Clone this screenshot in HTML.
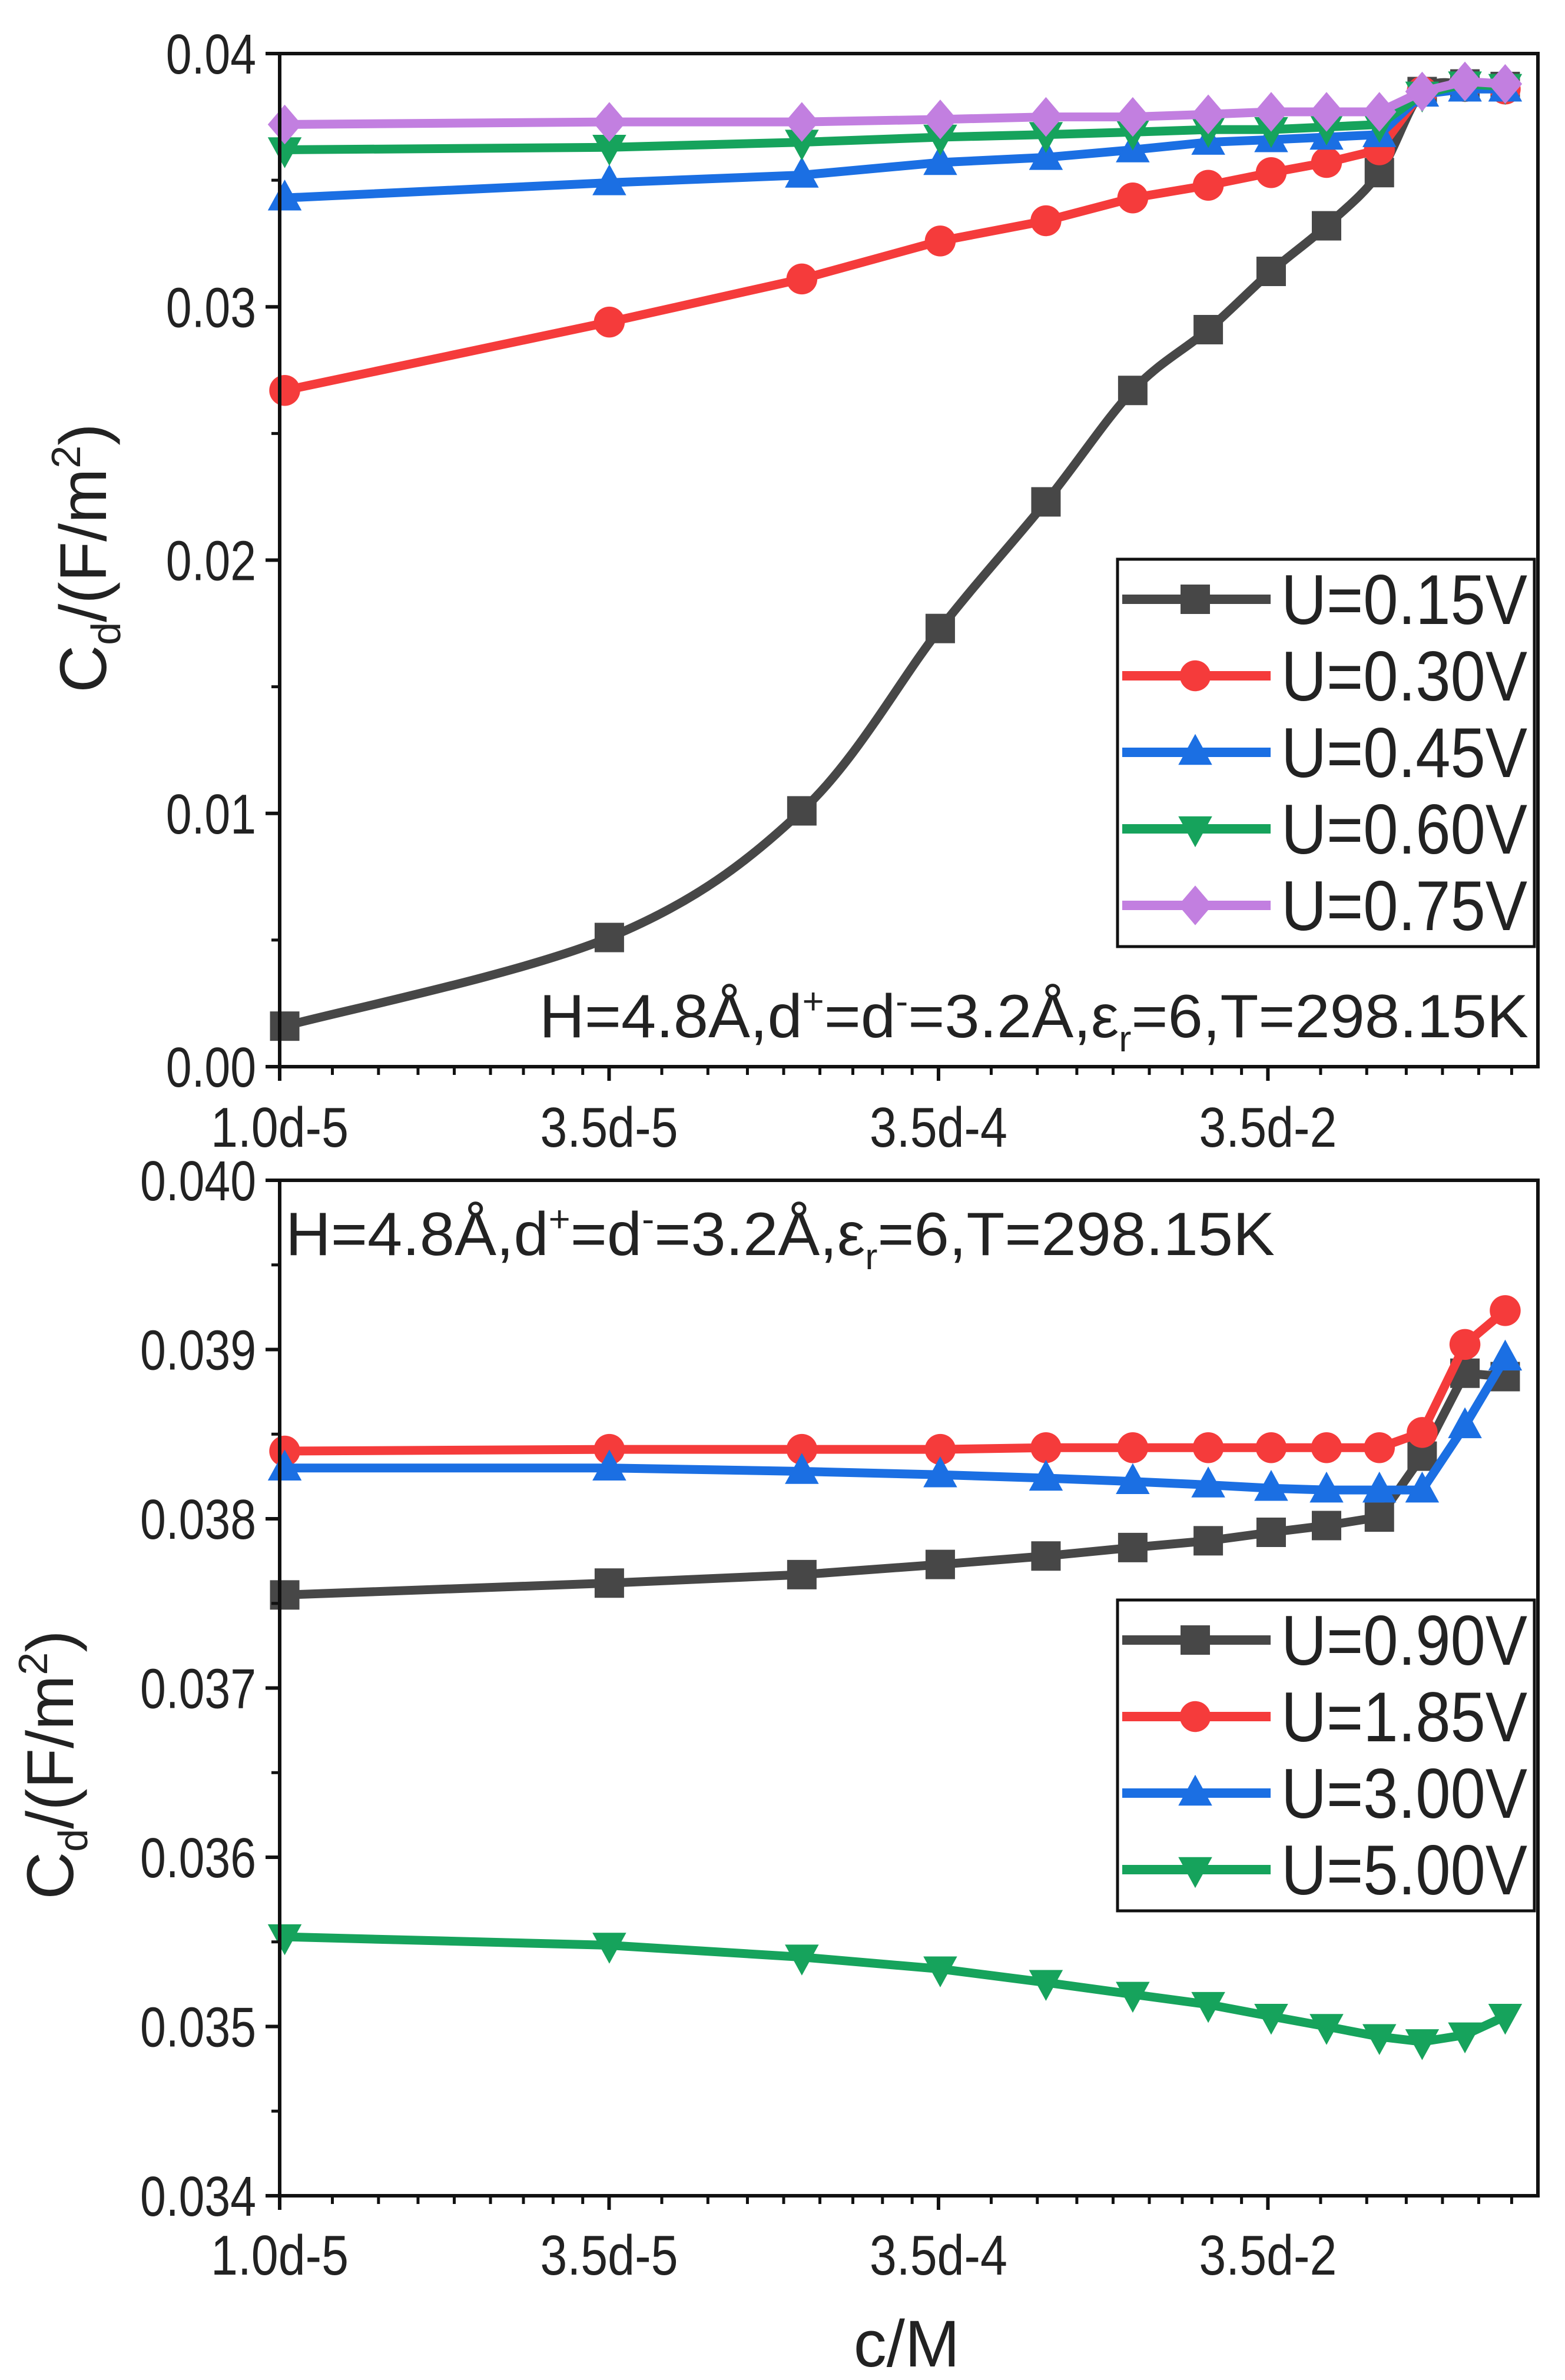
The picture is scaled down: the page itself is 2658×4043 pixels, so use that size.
<!DOCTYPE html>
<html><head><meta charset="utf-8"><style>
html,body{margin:0;padding:0;background:#fff}
svg{display:block}
text{font-family:"Liberation Sans",sans-serif;fill:#222}
</style></head><body>
<svg id="chart" width="2658" height="4043" viewBox="0 0 2658 4043" xmlns="http://www.w3.org/2000/svg"></svg>
<script>
// shared x positions (axis units 0..1)
const xVals = [0.004,0.262,0.415,0.525,0.609,0.678,0.738,0.788,0.832,0.874,0.908,0.942,0.974];
const xTickLabels = ["1.0d-5","3.5d-5","3.5d-4","3.5d-2"];
const xTickVals = [0,0.2618,0.5236,0.7854];
// top panel
const topLabels = ["U=0.15V","U=0.30V","U=0.45V","U=0.60V","U=0.75V"];
const top015 = [0.0016,0.0051,0.0101,0.0173,0.0223,0.0267,0.0291,0.0314,0.0332,0.0353,0.0385,0.0388,0.0387];
const top030 = [0.0267,0.0294,0.0311,0.0326,0.0334,0.0343,0.0348,0.0353,0.0357,0.0362,0.0385,0.0387,0.0386];
const top045 = [0.0343,0.0349,0.0352,0.0357,0.0359,0.0362,0.0365,0.0366,0.0367,0.0368,0.0384,0.0386,0.0386];
const top060 = [0.0362,0.0363,0.0365,0.0367,0.0368,0.0369,0.0370,0.0370,0.0371,0.0372,0.0384,0.0388,0.0387];
const top075 = [0.0372,0.0373,0.0373,0.0374,0.0375,0.0375,0.0376,0.0377,0.0377,0.0377,0.0385,0.0389,0.0388];
const topYTicks = ["0.00","0.01","0.02","0.03","0.04"];
const topYTickVals = [0,0.01,0.02,0.03,0.04];
// bottom panel
const botLabels = ["U=0.90V","U=1.85V","U=3.00V","U=5.00V"];
const bot090 = [0.03755,0.03762,0.03767,0.03773,0.03778,0.03783,0.03787,0.03792,0.03796,0.03801,0.03837,0.03886,0.03884];
const bot185 = [0.03840,0.03841,0.03841,0.03841,0.03842,0.03842,0.03842,0.03842,0.03842,0.03842,0.03851,0.03903,0.03923];
const bot300 = [0.03830,0.03830,0.03828,0.03826,0.03824,0.03822,0.03820,0.03818,0.03817,0.03817,0.03817,0.03855,0.03895];
const bot500 = [0.03553,0.03548,0.03541,0.03534,0.03526,0.03519,0.03513,0.03506,0.03500,0.03494,0.03491,0.03495,0.03506];
const botYTicks = ["0.034","0.035","0.036","0.037","0.038","0.039","0.040"];
const botYTickVals = [0.034,0.035,0.036,0.037,0.038,0.039,0.040];

const NS="http://www.w3.org/2000/svg";
const svg=document.getElementById('chart');
function mk(tag,attrs,parent){const e=document.createElementNS(NS,tag);for(const k in attrs)e.setAttribute(k,attrs[k]);(parent||svg).appendChild(e);return e;}
function squeeze(t,f){const w=t.getComputedTextLength();t.setAttribute('textLength',w*f);t.setAttribute('lengthAdjust','spacingAndGlyphs');}
const colors=["#474747","#f53b3b","#1b6fe3","#16a35c","#c27fe0"];
const markers=["square","circle","up","down","diamond"];
function marker(g,type,x,y,c){
  const s=25;let e;
  if(type==="square")e=mk('rect',{x:x-s,y:y-s,width:2*s,height:2*s,fill:c},g);
  else if(type==="circle")e=mk('circle',{cx:x,cy:y,r:s*1.05,fill:c},g);
  else if(type==="up")e=mk('polygon',{points:`${x},${y-s*1.25} ${x-s*1.15},${y+s*0.85} ${x+s*1.15},${y+s*0.85}`,fill:c},g);
  else if(type==="down")e=mk('polygon',{points:`${x},${y+s*1.25} ${x-s*1.15},${y-s*0.85} ${x+s*1.15},${y-s*0.85}`,fill:c},g);
  else e=mk('polygon',{points:`${x},${y-s*1.35} ${x-s*1.15},${y} ${x},${y+s*1.35} ${x+s*1.15},${y}`,fill:c},g);
  
  
}
function smoothPath(pts){
  let d=`M${pts[0][0]},${pts[0][1]}`;
  for(let i=0;i<pts.length-1;i++){
    const p0=pts[i-1]||pts[i],p1=pts[i],p2=pts[i+1],p3=pts[i+2]||p2;
    const c1=[p1[0]+(p2[0]-p0[0])/6,p1[1]+(p2[1]-p0[1])/6];
    const c2=[p2[0]-(p3[0]-p1[0])/6,p2[1]-(p3[1]-p1[1])/6];
    d+=` C${c1[0]},${c1[1]} ${c2[0]},${c2[1]} ${p2[0]},${p2[1]}`;
  }
  return d;
}
function panel(cfg){
  const L=475,R=2612,T=cfg.top,B=cfg.bottom;
  const xs=v=>L+v*(R-L);
  const ys=v=>B-(v-cfg.ymin)/(cfg.ymax-cfg.ymin)*(B-T);
  const g=mk('g',{});
  
  
  cfg.series.forEach((arr,i)=>{
    const pts=arr.map((v,j)=>[xs(xVals[j]),ys(v)]);
    const sg=mk('g',{},g);
    
    
    const d=(cfg.smooth&&i===0)?smoothPath(pts):'M'+pts.map(p=>p.join(',')).join(' L');
    const p=mk('path',{d:d,fill:'none',stroke:colors[i],'stroke-width':15,'stroke-linejoin':'round'},sg);
    
    
    pts.forEach(pt=>marker(sg,markers[i],pt[0],pt[1],colors[i]));
  });
  const fr=mk('rect',{x:L,y:T,width:R-L,height:B-T,fill:'none',stroke:'#111','stroke-width':6},g);
  
  
  cfg.yTickVals.forEach((v,i)=>{
    const y=ys(v);
    mk('line',{x1:L-24,x2:L,y1:y,y2:y,stroke:'#111','stroke-width':6},g);
    const t=mk('text',{x:L-40,y:y+34,'text-anchor':'end','font-size':96},g);
    t.textContent=cfg.yTicks[i];
    
    
    squeeze(t,0.82);
    if(i<cfg.yTickVals.length-1){
      const ym=ys((v+cfg.yTickVals[i+1])/2);
      mk('line',{x1:L-14,x2:L,y1:ym,y2:ym,stroke:'#111','stroke-width':5},g);
    }
  });
  const dec=0.2618,minors=[0.16,0.30,0.42,0.53,0.64,0.74,0.83,0.92];
  xTickVals.forEach((v,i)=>{
    const x=xs(v);
    mk('line',{x1:x,x2:x,y1:B,y2:B+24,stroke:'#111','stroke-width':6},g);
    const t=mk('text',{x:x,y:cfg.xLabelY,'text-anchor':'middle','font-size':96},g);
    t.textContent=xTickLabels[i];
    
    
    squeeze(t,0.86);
    minors.forEach(m=>{const xv=v+m*dec;if(xv<0.999){const xm=xs(xv);mk('line',{x1:xm,x2:xm,y1:B,y2:B+14,stroke:'#111','stroke-width':5},g);}});
  });
  const yt=mk('text',{transform:`translate(${cfg.ytx},${cfg.yty}) rotate(-90)`,'text-anchor':'middle','font-size':112},g);
  yt.innerHTML='C<tspan font-size="70" dy="24">d</tspan><tspan dy="-24">/(F/m</tspan><tspan font-size="70" dy="-44">2</tspan><tspan dy="44">)</tspan>';
  
  
  const lg=mk('g',{},g);
  
  
  mk('rect',{x:1898,y:cfg.legTop,width:708,height:cfg.labels.length*130+8,fill:'#fff',stroke:'#111','stroke-width':5},lg);
  cfg.labels.forEach((lab,i)=>{
    const y=cfg.legTop+68+i*130;
    const e=mk('g',{},lg);
    
    
    mk('line',{x1:1906,x2:2158,y1:y,y2:y,stroke:colors[i],'stroke-width':16},e);
    marker(e,markers[i],2030,y,colors[i]);
    const t=mk('text',{x:2176,y:y+42,'font-size':120,textLength:418,lengthAdjust:'spacingAndGlyphs'},e);
    t.textContent=lab;
  });
  const an=mk('text',{x:cfg.annX,y:cfg.annY,'font-size':104,textLength:1680,lengthAdjust:'spacingAndGlyphs'},g);
  an.innerHTML='H=4.8Å,d<tspan font-size="62" dy="-40">+</tspan><tspan dy="40">=d</tspan><tspan font-size="62" dy="-40">-</tspan><tspan dy="40">=3.2Å,ε</tspan><tspan font-size="62" dy="24">r</tspan><tspan dy="-24">=6,T=298.15K</tspan>';
  
  
}
panel({name:'top-panel',top:91,bottom:1812,ymin:0,ymax:0.04,series:[top015,top030,top045,top060,top075],labels:topLabels,
  yTicks:topYTicks,yTickVals:topYTickVals,xLabelY:1948,ytx:180,yty:948,legTop:950,annX:916,annY:1762,smooth:true});
panel({name:'bottom-panel',top:2005,bottom:3730,ymin:0.034,ymax:0.040,series:[bot090,bot185,bot300,bot500],labels:botLabels,
  yTicks:botYTicks,yTickVals:botYTickVals,xLabelY:3864,ytx:124,yty:2998,legTop:2718,annX:485,annY:2132,smooth:false});
const xt=mk('text',{x:1540,y:4020,'text-anchor':'middle','font-size':112});
xt.textContent='c/M';


</script>
</body></html>
